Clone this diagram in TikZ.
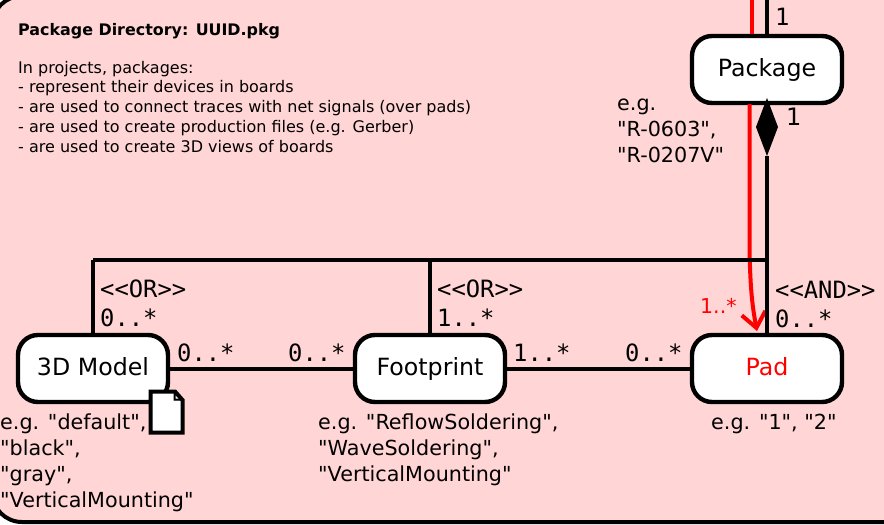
\documentclass[tikz,border=0pt]{standalone}
\usepackage{fontspec}
\defaultfontfeatures[\rmfamily]{}
\setmainfont{DejaVu Sans}
\setmonofont{DejaVu Sans Mono}
\usetikzlibrary{arrows.meta}
\definecolor{pinkbg}{HTML}{FFD5D5}
\tikzset{
  x=1pt,y=-1pt,
  umlbox/.style={draw=black,fill=white,line width=4.4pt,rounded corners=20pt,minimum width=150pt,minimum height=67pt,inner sep=0pt,text height=19pt,text depth=5pt,font=\fontsize{23.7}{23.7}\selectfont},
  link/.style={draw=black,line width=4pt},
  mult/.style={inner sep=0pt,anchor=base west,font=\ttfamily\fontsize{23.8}{23.8}\selectfont},
  note/.style={inner sep=0pt,anchor=base west,font=\fontsize{20.7}{20.7}\selectfont,text=black},
  info/.style={inner sep=0pt,anchor=base west,font=\fontsize{16}{16}\selectfont},
}
\begin{document}
\begin{tikzpicture}
\useasboundingbox (0,0) rectangle (884,525);
\clip (0,0) rectangle (884,525);
\fill[white] (0,0) rectangle (884,525);
\draw[draw=black,fill=pinkbg,line width=4pt,rounded corners=30pt] (-8,-4) rectangle (920,522);

\node[umlbox] (package) at (767,69.5) {Package};
\node[umlbox,text=red] (pad) at (767,368.5) {Pad};
\node[umlbox] (footprint) at (430,368.5) {Footprint};
\node[umlbox] (model) at (93,368.5) {3D Model};
\coordinate (topblack) at (767,0);
\coordinate (topred) at (752,0);
\coordinate (diatop) at (767,98);
\coordinate (diabot) at (767,156);
\coordinate (junction) at (767,260);
\coordinate (modeltop) at (93,260);
\coordinate (foottop) at (430,260);

\draw[link] (topblack) -- (package.north -| topblack);
\draw[red,line width=4pt] (topred) -- (752,34);
\draw[red,line width=4pt,-{Straight Barb[length=15pt,width=24pt,line width=4pt]}] (749.5,104) -- (749.5,245) .. controls (750,285) and (752,305) .. (757,331);

\draw[link] (diabot) -- (pad.north -| diabot);
\fill (diatop) -- (778,127) -- (diabot) -- (756,127) -- cycle;
\draw[link] (modeltop) -- (junction);
\draw[link] (modeltop) -- (model.north -| modeltop);
\draw[link] (foottop) -- (footprint.north -| foottop);
\draw[link] (model.east) -- (footprint.west);
\draw[link] (footprint.east) -- (pad.west);

% file icon
\draw[draw=black,fill=white,line width=4pt,line join=miter] (150.5,391.5) -- (175,391.5) -- (182.5,400) -- (182.5,432.5) -- (150.5,432.5) -- cycle;
\draw[black,fill=black,line width=1pt] (174,392) -- (174,400) -- (182,400) -- cycle;
\fill[white] (175.5,395.5) -- (175.5,398.5) -- (178.5,398.5) -- cycle;

\node[mult] (m1) at (775,25) {1};
\node[mult,font=\fontsize{24}{24}\selectfont] (m2) at (786,125) {1};
\node[mult] (m3) at (775,298) {<{}<AND>{}>};
\node[mult] (m4) at (775,327) {0..*};
\node[mult] (m5) at (437,297) {<{}<OR>{}>};
\node[mult] (m6) at (437,326) {1..*};
\node[mult] (m7) at (100,297) {<{}<OR>{}>};
\node[mult] (m8) at (100,326) {0..*};
\node[mult] (m9) at (177,361) {0..*};
\node[mult] (m10) at (288,361) {0..*};
\node[mult] (m11) at (513,361) {1..*};
\node[mult] (m12) at (625,361) {0..*};
\node[inner sep=0pt,anchor=base west,text=red,font=\fontsize{20.5}{20.5}\selectfont] (m13) at (700,313) {1..*};

\node[note] (e1) at (617,110) {e.g.};
\node[note] (e2) at (617,136) {"R-0603",};
\node[note] (e3) at (617,162) {"R-0207V"};
\node[note] (f1) at (318,429) {e.g. "ReflowSoldering",};
\node[note] (f2) at (318,455) {"WaveSoldering",};
\node[note] (f3) at (318,481) {"VerticalMounting"};
\node[note] (p1) at (711,429) {e.g. "1", "2"};
\node[note] (d1) at (0,429) {e.g. "default",};
\node[note] (d2) at (0,455) {"black",};
\node[note] (d3) at (0,481) {"gray",};
\node[note] (d4) at (0,507) {"VerticalMounting"};

\node[info,font=\bfseries\fontsize{15.9}{15.9}\selectfont] (t0) at (18,35) {Package Directory: UUID.pkg};
\node[info] (t1) at (18,73) {In projects, packages:};
\node[info] (t2) at (18,92) {- represent their devices in boards};
\node[info] (t3) at (18,112) {- are used to connect traces with net signals (over pads)};
\node[info] (t4) at (18,132) {- are used to create production files (e.g. Gerber)};
\node[info] (t5) at (18,152) {- are used to create 3D views of boards};
\end{tikzpicture}
\end{document}
